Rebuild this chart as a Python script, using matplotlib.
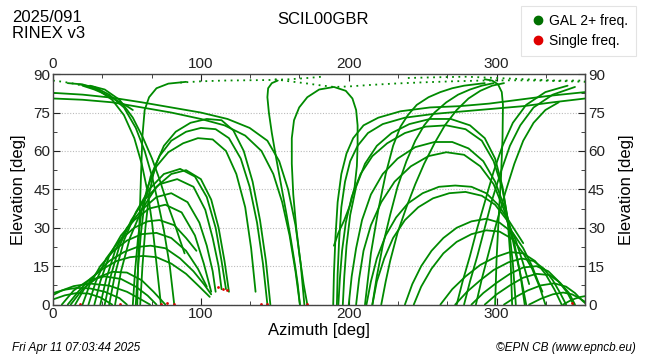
import matplotlib
matplotlib.use("Agg")
import matplotlib.pyplot as plt
from matplotlib.lines import Line2D
from matplotlib.ticker import MultipleLocator

plt.rcParams['font.family'] = ['Liberation Sans', 'DejaVu Sans']

# ---- satellite tracks: (azimuth list, elevation list) ----
# low arcs, bottom left
b1 = ([0, 8, 16, 25, 35, 45, 50], [4.5, 5.8, 6.5, 6.3, 5, 2.5, 0])
b2 = ([0, 8, 16, 24, 32, 40], [2, 3.6, 4.5, 4.3, 2.8, 0])
b3 = ([0, 6, 14, 25, 38, 50, 58, 65.6], [3.7, 5.5, 7.2, 8.2, 7.4, 5, 2.5, 0])
b4 = ([6, 14, 24, 35, 46, 56, 64, 70], [0, 5.5, 9.5, 11, 10, 7, 3.5, 0])
b5 = ([12, 20, 30, 40, 50, 60, 68, 76], [0, 6, 10.5, 12.8, 12.5, 9.5, 5, 0])
# medium arcs, left
m8 = ([10, 17, 25, 34, 43, 52, 61, 70, 80, 90, 99, 106], [0, 5, 10, 14, 17, 18.5, 19, 18.5, 16, 12, 7, 3])
m7 = ([15, 21, 29, 38, 48, 57, 66, 76, 86, 95, 102, 107], [0, 6, 12, 17, 20.5, 22.5, 23, 22, 18, 13, 8, 4])
m6 = ([20, 25, 32, 41, 50, 60, 70, 80, 90, 98, 104], [0, 8, 15, 21, 25, 27.5, 28, 26, 21, 14, 7])
m5 = ([24, 29, 36, 45, 55, 64, 72, 82, 90, 97], [0, 9, 18, 25, 30, 32.5, 33, 31, 26, 21])
m4 = ([28, 32, 38, 46, 55, 65, 76, 87, 96, 102, 107], [0, 9, 19, 27, 33, 37.5, 39, 36, 27, 16, 5])
m3 = ([32, 36, 42, 50, 60, 70, 80, 91, 99, 104, 108, 110], [0, 10, 21, 30, 37, 42, 43.5, 40, 32, 23, 13, 5])
m2 = ([35, 39, 45, 53, 62, 72, 84, 95, 103, 108, 112, 114], [0, 11, 23, 33, 41, 47, 49, 46, 37, 26, 15, 6])
m1 = ([38, 42, 48, 56, 65, 75, 86, 96, 104, 110, 114, 117], [0, 12, 25, 36, 45, 51, 53, 50, 42, 30, 17, 6])
m0 = ([42, 46, 52, 60, 70, 80, 90, 100, 107, 112, 116, 119], [0, 13, 26, 37, 46, 51, 52.5, 49, 41, 30, 17, 5])
# high dome, left
r1 = ([56, 57.5, 59.5, 62, 66, 72, 80, 90, 100, 110, 119, 127, 133, 138, 142, 145],
      [0, 14, 28, 40, 50, 58, 64, 67.5, 69, 68.5, 65, 57, 46, 32, 16, 0])
r2 = ([59, 60.5, 62.5, 65, 69, 75, 83, 93, 104, 114, 122, 129, 135, 140, 144, 147],
      [0, 15, 30, 43, 54, 62, 67.5, 71, 72.5, 72, 68, 60, 48, 33, 17, 0])
r3 = ([54, 55.5, 57.5, 60, 64, 70, 78, 88, 98, 108, 117, 124, 130, 134, 137],
      [0, 13, 26, 37, 46, 54, 59.5, 63, 65, 64.5, 60, 51, 38, 22, 5])
tall_left = ([57, 57.5, 58.5, 59.5, 60.5, 62, 65, 70, 78, 90], [0, 15, 32, 50, 66, 76, 81, 84.5, 86.3, 87])
# steep tracks from the top left
h3 = ([20, 28, 36, 44, 50, 54], [85.5, 84, 82, 79.5, 77.5, 76])
s1 = ([10, 20, 30, 40, 48, 55, 60, 64, 67, 70, 73], [86.5, 86, 84, 80, 74, 65, 55, 44, 32, 16, 0])
s3 = ([18, 28, 38, 48, 56, 62, 67, 71, 75, 79, 82], [86, 85, 82, 77, 69, 60, 50, 40, 29, 15, 0])
s4 = ([25, 35, 45, 54, 61, 67, 72, 77, 82, 86, 89], [85.5, 84, 80, 73, 65, 57, 49, 40, 32, 25, 20])
h1 = ([0, 20, 40, 60, 80, 100, 118, 133, 145, 153, 159, 164, 167.5, 170],
      [82.7, 82, 80.8, 79, 77, 75, 72.5, 69, 64, 56, 45, 31, 16, 0])
h2 = ([0, 20, 40, 60, 80, 100, 116, 130, 141, 149, 155, 160, 164, 167],
      [80.5, 80, 79, 77, 75, 72.5, 70, 66, 60, 51, 40, 27, 13, 0])
# middle loops
v1 = ([167, 165.5, 163.5, 161, 158, 154.5, 151, 148, 146, 145, 145.5, 148, 152],
      [0, 8, 16, 25, 35, 46, 57, 67, 75, 81, 84.5, 86.5, 87.5])
v2 = ([172, 169.5, 167, 164.5, 162.5, 161.5, 161.5, 163, 166.5, 172, 180, 190, 198, 202.5, 205, 206, 206, 205.5, 204, 201, 197, 193, 190],
      [0, 8, 18, 30, 43, 55, 65, 72, 77, 81, 84, 85, 83.5, 80.5, 76, 70, 62, 54, 46, 39, 33, 28, 23])
# right dome: tracks rising near 190 deg, the first two reach the right edge
g1 = ([189.5, 190, 191, 192.5, 195, 198.5, 203, 210, 220, 235, 255, 275, 295, 315, 335, 360],
      [0, 12, 26, 40, 51, 59, 65, 70, 73, 75.5, 77, 77.5, 78.5, 80, 81.5, 83])
g2 = ([192, 192.5, 193.5, 195, 197.5, 201, 206, 213, 223, 238, 258, 278, 298, 318, 338, 360],
      [0, 12, 25, 38, 48, 56, 62, 67, 70.5, 73, 74.5, 75.5, 76.5, 77.5, 79, 80.5])
g3 = ([193, 194, 195.5, 198, 202, 208, 216, 226, 238, 252, 266, 279, 290, 298, 304, 308, 311, 313],
      [0, 10, 21, 32, 42, 51, 58, 63, 67, 69.5, 70, 68.5, 64, 56, 45, 32, 16, 0])
g4 = ([196, 197, 198.5, 201, 205, 211, 219, 229, 241, 255, 269, 282, 292, 299, 304, 307.5, 309.5, 310.5],
      [0, 11, 23, 35, 46, 55, 62, 67, 70.5, 72.5, 72.5, 70, 65, 57, 46, 33, 17, 0])
g5 = ([200, 202, 205, 209, 215, 223, 233, 245, 258, 270, 281, 291, 299, 306, 312, 316, 319],
      [0, 11, 22, 33, 43, 51, 57, 61.5, 63.5, 63.5, 61, 56, 48, 37, 24, 12, 0])
g6 = ([205, 207, 210, 215, 222, 231, 242, 254, 266, 278, 289, 298, 305, 311, 316, 320],
      [0, 10, 21, 31, 40, 48, 54, 58, 59.5, 58.5, 54, 47, 37, 25, 12, 0])
tall_right = ([292, 297, 301, 303.5, 304.3, 304, 303, 301.5, 300, 299], [88, 87.5, 86, 83, 78, 65, 50, 35, 18, 0])
# steep tracks from the top right, falling to the left
rs1 = ([292, 285, 278, 270, 262, 254, 246, 240, 235, 230, 225, 220, 215, 211],
       [86.5, 86, 85.5, 84.5, 83, 81, 78, 74, 69.5, 62, 51, 37, 20, 0])
rs2 = ([298, 290, 282, 274, 266, 258, 251, 245, 239, 233, 228, 223, 219, 216],
       [86.5, 85.5, 84, 82, 79, 75, 70, 64, 56, 46, 35, 23, 11, 0])
rs3 = ([305, 297, 289, 281, 273, 265, 258, 251, 245, 239, 233, 228, 225, 222],
       [86.5, 85.5, 83.5, 80.5, 76, 70, 63, 55, 47, 38, 28, 17, 9, 0])
# steep tracks rising to the top right
rt1 = ([273, 277, 282, 287, 292, 298, 304, 311, 320, 333, 348],
       [0, 9, 19, 30, 40, 52, 62, 71, 78, 83, 85.5])
rt2 = ([278, 282, 287, 292, 297, 303, 309, 316, 325, 338, 353],
       [0, 9, 19, 30, 41, 52, 62, 70, 77, 82, 85])
rt3 = ([286, 290, 295, 300, 306, 312, 318, 325, 333, 342],
       [0, 10, 21, 32, 44, 55, 64, 71, 76, 79])
# medium and low arcs, right
a46 = ([212, 215, 219, 225, 232, 240, 250, 261, 272, 283, 293, 301, 308, 313, 318],
       [0, 9, 18, 27, 34, 39.5, 43.5, 46, 46.5, 46, 43.5, 39, 33, 28.5, 24])
a44 = ([216, 219, 224, 230, 238, 247, 257, 268, 279, 290, 299, 307, 313, 318, 322],
       [0, 9, 18, 26, 33, 38, 41.5, 43.5, 44, 42.5, 39, 33, 25, 16, 8])
a33 = ([238, 243, 249, 256, 264, 273, 283, 293, 302, 311, 318, 324, 328, 331],
       [0, 8, 15, 21, 26, 30, 32.5, 33.5, 32, 28, 22, 15, 9, 5])
a29 = ([244, 249, 256, 264, 273, 283, 293, 302, 311, 318, 324, 329, 333],
       [0, 7, 14, 20, 24.5, 27.5, 29, 28.5, 25.5, 20, 14, 7, 0])
a21 = ([262, 270, 279, 289, 299, 309, 318, 326, 333, 339, 344],
       [0, 6, 11, 15.5, 18.5, 20.5, 20, 17, 12, 6, 0])
a18 = ([272, 280, 289, 298, 308, 317, 325, 332, 338, 343, 347],
       [0, 5, 9.5, 13.5, 16.5, 18, 17, 14, 9.5, 4.5, 0])
a15 = ([283, 291, 300, 309, 318, 327, 335, 342, 348, 352],
       [0, 4.5, 8.5, 12, 14.5, 15, 13, 9, 4.5, 0])
a12 = ([292, 300, 309, 318, 327, 336, 343, 349, 353],
       [0, 4, 7.5, 10.5, 12, 11.5, 8.5, 4.5, 0])
a8 = ([305, 313, 321, 330, 339, 347, 353, 358, 360],
      [0, 3, 5.5, 7.5, 8.3, 7, 4.5, 1.5, 0.5])
a4 = ([322, 330, 338, 345, 351, 356, 360], [0, 2.3, 4, 4.7, 4, 2.5, 1])
a3 = ([345, 349, 353, 357, 360], [0, 1.3, 2.3, 3, 3.3])

# sparsely sampled passes near the zenith (drawn dotted)
dt0 = ([0, 7, 14, 20], [87.5, 87, 86.3, 85.5])
dt1 = ([86, 100, 115, 130, 145, 160, 172, 182], [86.7, 87.2, 87.5, 87.6, 87.7, 88, 88.5, 89])
dt2 = ([150, 160, 170, 180, 190, 200, 215, 230, 250, 270, 290, 310, 330, 350, 360],
       [88, 87.2, 86.5, 85.7, 85, 85.2, 85.8, 86.3, 86.8, 87.2, 87.5, 87.6, 87.5, 87.2, 87])
dt3 = ([240, 260, 280, 300, 320, 340, 360], [88.5, 88.8, 89, 88.5, 88, 87.5, 87.5])

# single-frequency epochs
red_az = [18, 45, 73, 77, 82, 111.6, 115, 118, 141, 145, 172, 351]
red_el = [0.4, 0.4, 0.4, 0.8, 0.4, 6.8, 6, 5.5, 0.4, 0.4, 0.4, 0.8]

solid_tracks = [b1, b2, b3, b4, b5, m8, m7, m6, m5, m4, m3, m2, m1, m0, r1, r2, r3,
                tall_left, h3, s1, s3, s4, h1, h2, v1, v2, g1, g2, g3, g4, g5, g6,
                tall_right, rs1, rs2, rs3, rt1, rt2, rt3, a46, a44, a33, a29, a21,
                a18, a15, a12, a8, a4, a3]
dotted_tracks = [dt0, dt1, dt2, dt3]

GREEN = '#008a00'
RED = '#e00000'

fig = plt.figure(figsize=(6.5, 3.6), dpi=100)
ax = fig.add_axes([0.0815, 0.154, 0.819, 0.64])

for az, el in solid_tracks:
    ax.plot(az, el, color=GREEN, lw=1.3, solid_capstyle='round', solid_joinstyle='round')
for az, el in dotted_tracks:
    ax.plot(az, el, color=GREEN, lw=1.3, linestyle=(0, (1, 2.5)))
ax.plot(red_az, red_el, 'o', color=RED, ms=2, mec='none')

ax.set_xlim(0, 360)
ax.set_ylim(0, 90)
ax.set_xticks([0, 100, 200, 300])
ax.set_yticks(range(0, 91, 15))
ax.xaxis.set_minor_locator(MultipleLocator(100 / 3))
ax.yaxis.set_minor_locator(MultipleLocator(7.5))
ax.tick_params(which='both', direction='in', top=True, right=True,
               labeltop=True, labelright=True, labelsize=11, colors='#222222', pad=2)
ax.tick_params(which='major', length=5)
ax.tick_params(which='minor', length=3)
for sp in ax.spines.values():
    sp.set_color('#444444')
    sp.set_linewidth(1.0)
ax.yaxis.grid(True, color='#bbbbbb', linestyle=(0, (1, 1.5)), lw=0.8)
ax.set_axisbelow(True)

ax.set_xlabel('Azimuth [deg]', fontsize=12, labelpad=1)
ax.set_ylabel('Elevation [deg]', fontsize=12, labelpad=5)
sec = ax.secondary_yaxis('right')
sec.set_yticks([])
sec.set_ylabel('Elevation [deg]', fontsize=12, labelpad=24)

fig.text(12 / 650, 1 - 10 / 360, '2025/091', ha='left', va='top', fontsize=12)
fig.text(12 / 650, 1 - 26 / 360, 'RINEX v3', ha='left', va='top', fontsize=12)
fig.text(0.497, 1 - 12 / 360, 'SCIL00GBR', ha='center', va='top', fontsize=12)
fig.text(12 / 650, 1 - 348 / 360, 'Fri Apr 11 07:03:44 2025', ha='left', va='center',
         fontsize=8.5, style='italic')
fig.text(636 / 650, 1 - 348 / 360, '\u00a9EPN CB (www.epncb.eu)', ha='right', va='center',
         fontsize=8.5, style='italic')

handles = [Line2D([], [], marker='o', ls='none', color='#007000', ms=6),
           Line2D([], [], marker='o', ls='none', color=RED, ms=6)]
leg = fig.legend(handles, ['GAL 2+ freq.', 'Single freq.'], loc='upper right',
                 bbox_to_anchor=(636 / 650, 1 - 6 / 360), fontsize=10, frameon=True,
                 fancybox=False, handletextpad=0.2, borderpad=0.55, labelspacing=0.45,
                 handlelength=1.3, borderaxespad=0)
leg.get_frame().set_edgecolor('#dddddd')
leg.get_frame().set_linewidth(0.8)

fig.savefig('out.png', dpi=100)
